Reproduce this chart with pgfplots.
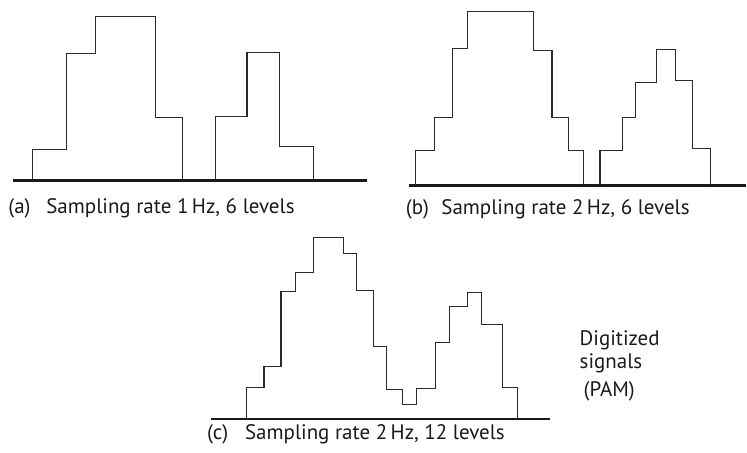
\documentclass[border=0pt]{standalone}
\usepackage{pgfplots}
\pgfplotsset{compat=1.18}
\usepackage{fontspec}
\setmainfont{PT Sans}
\definecolor{stepc}{HTML}{2B2B2B}
\definecolor{basec}{HTML}{1A1A1A}
\pgfplotsset{panel/.style={hide axis, scale only axis, anchor=south west,
  x=0.5pt, y=0.5pt, xmin=0, ymin=0, clip=false}}
\begin{document}
\begin{tikzpicture}[x=0.5pt,y=0.5pt]
\path (0,0) rectangle (747,453);
% (a)
\begin{axis}[panel, at={(12.7,272.3)}, xmax=355, ymax=170]
\addplot[line width=1.2pt, basec] coordinates {(0,0)(355,0)};
\addplot[line width=0.55pt, stepc] coordinates {(20,0)(20,31.3)(54,31.3)(54,127.3)(83.3,127.3)(83.3,164)(142.6,164)(142.6,63.3)(170,63.3)(170,0)};
\addplot[line width=0.55pt, stepc] coordinates {(203.3,0)(203.3,64)(234.6,64)(234.6,128.3)(267.3,128.3)(267.3,34)(301.3,34)(301.3,0)};
\end{axis}
% (b)
\begin{axis}[panel, at={(409.3,267.3)}, xmax=337.4, ymax=180]
\addplot[line width=1.2pt, basec] coordinates {(0,0)(337.4,0)};
\addplot[line width=0.55pt, stepc] coordinates {(6.7,0)(6.7,34.7)(25.7,34.7)(25.7,67.7)(44,67.7)(44,137)(59,137)(59,174)(125,174)(125,135)(143.4,135)(143.4,67.7)(160,67.7)(160,34.7)(175,34.7)(175,0)};
\addplot[line width=0.55pt, stepc] coordinates {(191.4,0)(191.4,34.7)(214,34.7)(214,67.7)(227.4,67.7)(227.4,103)(248.4,103)(248.4,135.7)(266.7,135.7)(266.7,104.7)(284,104.7)(284,36.7)(301.7,36.7)(301.7,0)};
\end{axis}
% (c)
\begin{axis}[panel, at={(211.7,33.7)}, xmax=339.3, ymax=190]
\addplot[line width=1.2pt, basec] coordinates {(0,0)(339.3,0)};
\addplot[line width=0.55pt, stepc] coordinates {(35,0)(35,31)(52.6,31)(52.6,52)(69.6,52)(69.6,127.6)(84,127.6)(84,146.6)(102,146.6)(102,181.6)(132,181.6)(132,165.6)(145.3,165.6)(145.3,128)(162,128)(162,72)(175,72)(175,29.6)(191.3,29.6)(191.3,14.3)(205.6,14.3)(205.6,30)(224.3,30)(224.3,76.3)(238.3,76.3)(238.3,112.3)(256.6,112.3)(256.6,126.6)(270.6,126.6)(270.6,94.3)(291,94.3)(291,31.3)(306,31.3)(306,0)};
\end{axis}
\fontsize{10.5pt}{12pt}\selectfont
\tikzset{lab/.style={anchor=base west, inner sep=0pt, text=basec}}
\node[lab] at (8,239) {(a)};
\node[lab] at (46,239) {Sampling rate 1\,Hz, 6 levels};
\node[lab] at (406,238) {(b)};
\node[lab] at (441.5,238) {Sampling rate 2\,Hz, 6 levels};
\node[lab] at (207,13) {(c)};
\node[lab] at (245,13) {Sampling rate 2\,Hz, 12 levels};
\node[lab] at (580,107) {Digitized};
\node[lab] at (580,83.7) {signals};
\node[lab] at (584,55.7) {(PAM)};
\end{tikzpicture}
\end{document}
